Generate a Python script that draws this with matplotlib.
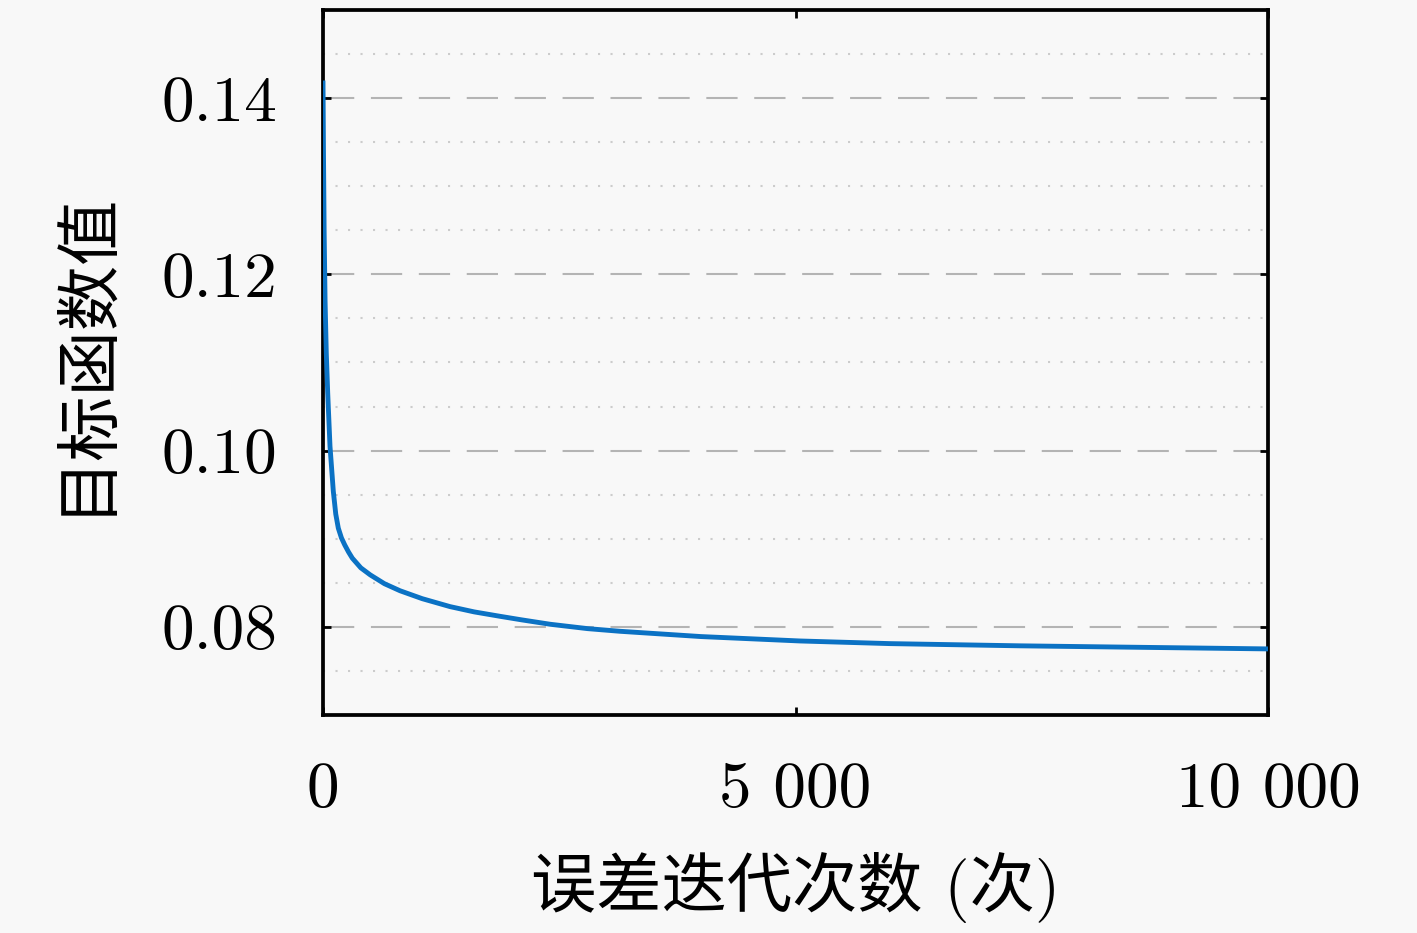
import matplotlib
matplotlib.use("Agg")
import matplotlib.pyplot as plt
from matplotlib.ticker import MultipleLocator, FixedLocator

# ---- data ----
iterations = [0, 5, 12, 22, 35, 50, 74, 109, 135, 162, 195, 230, 270, 310, 400,
              500, 650, 815, 1050, 1344, 1600, 1873, 2100, 2402, 2800, 3143,
              4000, 5048, 6000, 7376, 8500, 10000]
objective = [0.142, 0.134, 0.125, 0.117, 0.111, 0.1065, 0.1005, 0.0954, 0.0928,
             0.0912, 0.0901, 0.0893, 0.0885, 0.0878, 0.0867, 0.0859, 0.0849,
             0.0841, 0.0832, 0.0823, 0.0817, 0.0812, 0.0808, 0.0803, 0.0798,
             0.0795, 0.0789, 0.0784, 0.0781, 0.07785, 0.0777, 0.0775]
x_ticks = [0, 5000, 10000]
x_ticklabels = ["0", "5 000", "10 000"]
y_ticks = [0.08, 0.10, 0.12, 0.14]
y_ticklabels = ["0.08", "0.10", "0.12", "0.14"]
xlabel = "误差迭代次数 (次)"
ylabel = "目标函数值"

fam = ["cmr10", "Noto Sans CJK SC", "DejaVu Sans"]
bg = "#f8f8f8"

fig = plt.figure(figsize=(14.17, 9.33), dpi=100, facecolor=bg)
ax = fig.add_axes([323/1417, 1-715/933, (1268-323)/1417, (715-10)/933])
ax.set_facecolor(bg)

ax.plot(iterations, objective, color="#0b72c4", lw=3.5, zorder=3,
        solid_capstyle="butt", solid_joinstyle="round")

ax.set_xlim(0, 10000)
ax.set_ylim(0.07, 0.15)

ax.xaxis.set_major_locator(FixedLocator(x_ticks))
ax.set_xticklabels(x_ticklabels)
ax.yaxis.set_major_locator(FixedLocator(y_ticks))
ax.set_yticklabels(y_ticklabels)
ax.yaxis.set_minor_locator(MultipleLocator(0.005))

ax.grid(False)
ax.yaxis.grid(True, which="major", color="#b4b4b4", lw=1.5, linestyle=(0, (15, 8)))
ax.yaxis.grid(True, which="minor", color="#cccccc", lw=1.5, linestyle=(0, (1, 5)))
ax.set_axisbelow(True)

for s in ax.spines.values():
    s.set_linewidth(2.7)
    s.set_color("black")

ax.tick_params(which="major", direction="in", length=6, width=2, top=True, right=True,
               labelsize=47)
ax.tick_params(which="minor", length=0, left=True, right=True)
ax.tick_params(axis="x", which="major", pad=34)
ax.tick_params(axis="y", which="major", pad=33)
for lab in ax.get_xticklabels() + ax.get_yticklabels():
    lab.set_family(fam)

ax.set_xlabel(xlabel, family=fam, fontsize=47)
ax.set_ylabel(ylabel, family=fam, fontsize=47)
ax.xaxis.set_label_coords(0.5, -0.245)
ax.yaxis.set_label_coords(-0.252, 0.515)
ax.xaxis.label.set_va("center")
ax.yaxis.label.set_va("center")

fig.savefig("out.png", dpi=100, facecolor=bg)
